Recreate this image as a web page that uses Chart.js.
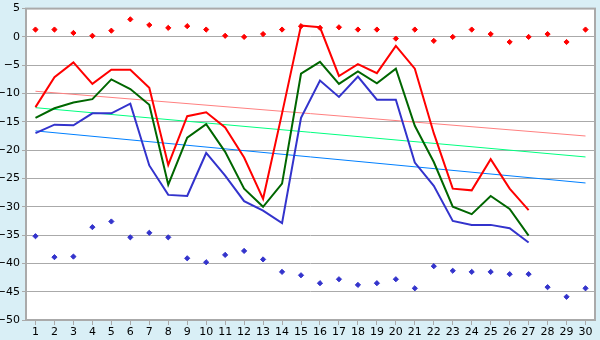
<!DOCTYPE html>
<html>
<head>
<meta charset="utf-8">
<script src="https://cdn.jsdelivr.net/npm/chart.js@4"></script>
<style>
  html, body { margin: 0; padding: 0; background: #d9eff6; }
  #wrap { width: 600px; height: 340px; }
</style>
</head>
<body>
<div id="wrap"><canvas id="chart" width="600" height="340"></canvas></div>
<script>
// Giorni del mese
const days = Array.from({ length: 30 }, (_, i) => String(i + 1));

// Serie principali
const redLine = [-12.4, -7.1, -4.5, -8.3, -5.8, -5.8, -9.0, -22.6, -14.0, -13.3,
  -16.0, -21.3, -28.6, -13.5, 2.0, 1.7, -6.9, -4.8, -6.4, -1.6,
  -5.6, -17.0, -26.8, -27.1, -21.6, -26.8, -30.6];
const greenLine = [-14.3, -12.6, -11.6, -11.0, -7.5, -9.2, -12.0, -26.1, -17.8, -15.4,
  -20.3, -26.8, -30.0, -25.9, -6.5, -4.4, -8.3, -6.1, -8.2, -5.6,
  -15.7, -22.1, -30.0, -31.3, -28.1, -30.4, -35.1];
const blueLine = [-17.0, -15.5, -15.6, -13.5, -13.5, -11.8, -22.7, -27.9, -28.1, -20.5,
  -24.5, -29.0, -30.7, -32.9, -14.3, -7.7, -10.6, -7.0, -11.1, -11.1,
  -22.2, -26.3, -32.5, -33.2, -33.2, -33.8, -36.3];

// Punti sparsi (massimi e minimi)
const redDots = [1.3, 1.3, 0.7, 0.2, 1.1, 3.1, 2.1, 1.6, 1.9, 1.3,
  0.2, 0.0, 0.5, 1.3, 1.9, 1.6, 1.7, 1.3, 1.3, -0.3,
  1.3, -0.7, 0.0, 1.3, 0.5, -0.9, 0.0, 0.5, -0.9, 1.3];
const blueDots = [-35.2, -38.9, -38.8, -33.6, -32.6, -35.4, -34.6, -35.4, -39.1, -39.8,
  -38.5, -37.8, -39.3, -41.5, -42.1, -43.5, -42.8, -43.8, -43.5, -42.8,
  -44.4, -40.5, -41.3, -41.5, -41.5, -41.9, -41.9, -44.2, -45.9, -44.4];

// Linee di tendenza: solo gli estremi (giorno 1 e giorno 30)
const redTrendEnds = [-9.6, -17.5];
const greenTrendEnds = [-12.5, -21.2];
const blueTrendEnds = [-16.6, -25.8];

const yTicks = { min: -50, max: 5, step: 5 };

function trend(ends) {
  const arr = days.map(() => null);
  arr[0] = ends[0];
  arr[arr.length - 1] = ends[1];
  return arr;
}

// Sfondo azzurro, area grafico bianca con bordo grigio
const framePlugin = {
  id: 'frame',
  beforeDraw(chart) {
    const { ctx, chartArea: a } = chart;
    ctx.save();
    ctx.fillStyle = '#d9eff6';
    ctx.fillRect(0, 0, chart.width, chart.height);
    ctx.fillStyle = '#ffffff';
    ctx.fillRect(a.left, a.top, a.right - a.left, a.bottom - a.top);
    ctx.restore();
  },
  afterDraw(chart) {
    const { ctx, chartArea: a } = chart;
    ctx.save();
    ctx.strokeStyle = '#aaaaaa';
    ctx.lineWidth = 2;
    ctx.strokeRect(a.left, a.top, a.right - a.left, a.bottom - a.top);
    ctx.restore();
  }
};

const lineDs = (data, color) => ({
  data, borderColor: color, backgroundColor: color, borderWidth: 2,
  pointRadius: 0, tension: 0, fill: false, order: 1
});
const dotDs = (data, color) => ({
  data, borderColor: color, backgroundColor: color, showLine: false,
  pointStyle: 'rectRot', pointRadius: 2.6, borderWidth: 1, order: 2
});
const trendDs = (ends, color) => ({
  data: trend(ends), borderColor: color, borderWidth: 1, pointRadius: 0,
  spanGaps: true, fill: false, order: 3
});

new Chart(document.getElementById('chart'), {
  type: 'line',
  data: {
    labels: days,
    datasets: [
      lineDs(redLine, '#ff0000'),
      lineDs(greenLine, '#006600'),
      lineDs(blueLine, '#3333cc'),
      dotDs(redDots, '#ff0000'),
      dotDs(blueDots, '#3333cc'),
      trendDs(redTrendEnds, '#ff8080'),
      trendDs(greenTrendEnds, '#00ff80'),
      trendDs(blueTrendEnds, '#0080ff')
    ]
  },
  options: {
    responsive: false,
    animation: false,
    layout: { padding: { top: 5, right: 5, left: 0, bottom: 0 } },
    plugins: { legend: { display: false }, tooltip: { enabled: false } },
    scales: {
      x: {
        offset: true,
        grid: { drawOnChartArea: false, drawTicks: true, tickLength: 5, color: '#aaaaaa', offset: false },
        border: { display: false },
        ticks: {
          color: '#000', padding: 1, maxRotation: 0, autoSkip: false,
          font: { family: 'DejaVu Sans', size: 11 }
        },
        afterFit(scale) { scale.height = 20; }
      },
      y: {
        min: yTicks.min, max: yTicks.max,
        grid: { color: '#aaaaaa', lineWidth: 1, tickLength: 4 },
        border: { display: false },
        ticks: {
          stepSize: yTicks.step, color: '#000', padding: 2,
          font: { family: 'DejaVu Sans', size: 11 },
          callback: v => String(v).replace('-', '\u2212')
        },
        afterFit(scale) { scale.width = 26; }
      }
    }
  },
  plugins: [framePlugin]
});
</script>
</body>
</html>
